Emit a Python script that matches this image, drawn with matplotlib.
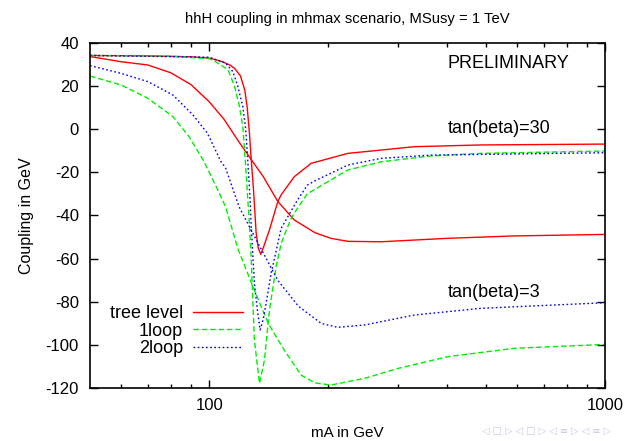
import numpy as np
import matplotlib.pyplot as plt
from matplotlib.ticker import FixedLocator, NullFormatter

plt.rcParams['font.family'] = ['Liberation Sans', 'DejaVu Sans']
plt.rcParams['axes.unicode_minus'] = False

# tree level
mA_tree30 = [50, 70, 90, 100, 107, 113, 116, 120, 123, 124.7, 126.4, 127.7, 129.4,
             130.6, 131.4, 133, 135, 137, 142, 149, 152, 164, 181, 224, 330, 485, 1000]
tree30 = [34.0, 33.8, 33.4, 32.8, 31.4, 29.5, 28.0, 24.5, 18.0, 10.3, -2.0, -14.0, -28.0,
          -40.0, -48.0, -55.0, -58.0, -55.0, -46.7, -33.7, -30.5, -22.1, -15.9, -11.3, -8.2, -7.4, -7.0]
mA_tree3 = [50, 60, 70, 80, 90, 100, 109, 118, 128, 137, 149, 164, 185, 203, 224, 272, 400, 589, 1000]
tree3 = [33.5, 31.1, 29.6, 26.0, 20.5, 12.6, 4.5, -5.1, -14.4, -22.1, -33.5, -42.1, -48.0,
         -50.6, -52.0, -52.2, -50.6, -49.5, -48.8]

# 1loop
mA_one30 = [50, 80, 100, 103, 111.5, 116, 119.3, 121.6, 122.8, 124.0, 125.2, 126, 127.7,
            130.1, 134.0, 137.9, 142, 147.6, 152, 155, 161, 164, 177, 224, 272, 363, 485, 1000]
one30 = [34.0, 33.7, 32.5, 31.5, 27.5, 19.6, 10.3, 1.0, -9.7, -20.4, -32.9, -40.0, -60.0,
         -97.7, -117.7, -107.0, -83.8, -63.7, -53.0, -49.0, -41.5, -39.0, -30.0, -19.0, -15.2, -12.5, -11.3, -10.2]
mA_one3 = [50, 60, 70, 81, 89, 97, 105, 110, 118, 129, 141, 155, 171, 185, 203, 247, 300, 400, 589, 1000]
one3 = [24.5, 20.3, 14.2, 5.7, -3.6, -15.0, -28.0, -36.0, -55.0, -73.0, -90.0, -102.5, -114.0,
        -117.5, -118.5, -115.4, -110.8, -105.4, -101.5, -99.7]

# 2loop
mA_two30 = [50, 100, 110, 114.8, 118.2, 121.6, 123.5, 124.7, 125.7, 126.9, 127.7, 130.1, 132.7,
            134.5, 137, 139.3, 143.4, 149.1, 152, 161, 167, 177, 185, 203, 224, 272, 363, 1000]
two30 = [34.0, 33.2, 30.5, 26.5, 19.6, 10.3, 1.0, -9.7, -20.4, -32.9, -45.0, -71.4, -85.3,
         -93.0, -88.0, -80.5, -66.8, -52.9, -46.0, -38.0, -33.0, -26.0, -24.0, -20.5, -16.7, -13.6, -12.1, -11.0]
mA_two3 = [50, 60, 70, 81, 91, 99, 107, 110, 119, 133, 149, 168, 192, 211, 247, 330, 485, 1000]
two3 = [29.3, 25.7, 21.9, 15.7, 6.5, -2.0, -15.0, -18.0, -36.0, -53.0, -70.0, -82.0, -90.0,
        -91.8, -90.7, -86.1, -83.0, -80.4]

red = '#ff0000'
green = '#00ee00'
blue = '#0000ff'

fig = plt.figure(figsize=(6.3, 4.41), dpi=100)
ax = fig.add_axes([0.1429, 0.1195, 0.8174, 0.7841])

ax.plot(mA_tree30, tree30, color=red, lw=1, label='tree level')
ax.plot(mA_tree3, tree3, color=red, lw=1)
ax.plot(mA_one30, one30, color=green, lw=1, ls=(0, (4, 2)), label='1loop')
ax.plot(mA_one3, one3, color=green, lw=1, ls=(0, (4, 2)))
ax.plot(mA_two30, two30, color=blue, lw=1, ls=(0, (1.2, 1.8)), label='2loop')
ax.plot(mA_two3, two3, color=blue, lw=1, ls=(0, (1.2, 1.8)))

ax.set_xscale('log')
ax.set_xlim(50, 1000)
ax.set_ylim(-120, 40)
ax.set_yticks(range(-120, 41, 20))
ax.xaxis.set_major_locator(FixedLocator([100, 1000]))
ax.set_xticklabels(['100', '1000'])
ax.xaxis.set_minor_locator(FixedLocator([60, 70, 80, 90, 200, 300, 400, 500, 600, 700, 800, 900]))
ax.xaxis.set_minor_formatter(NullFormatter())
ax.tick_params(which='both', direction='in', top=True, right=True, labelsize=12)
ax.tick_params(axis='y', pad=8)
ax.tick_params(axis='x', pad=7)
ax.tick_params(which='major', length=6, width=1)
ax.tick_params(which='minor', length=3, width=1)
for s in ax.spines.values():
    s.set_linewidth(1.2)

ax.set_title('hhH coupling in mhmax scenario, MSusy = 1 TeV', fontsize=10.7, pad=14)
ax.set_xlabel('mA in GeV', fontsize=11, labelpad=9)
ax.set_ylabel('Coupling in GeV', fontsize=11.5, labelpad=8)

ax.text(400, 30.5, 'PRELIMINARY', fontsize=13, va='center', ha='left')
ax.text(400, 0, 'tan(beta)=30', fontsize=13, va='center', ha='left')
ax.text(400, -75.5, 'tan(beta)=3', fontsize=13, va='center', ha='left')

ax.legend(loc='upper right', bbox_to_anchor=(243 / 630, 1 - 305 / 441),
          bbox_transform=fig.transFigure, frameon=False, markerfirst=False,
          fontsize=13, handlelength=2.77, handletextpad=0.55, labelspacing=0.03,
          borderpad=0, borderaxespad=0)

# faint beamer navigation symbols
fig.text(0.97, 0.012, '◁ □ ▷ ◁ □ ▷ ◁ ≡ ▷ ◁ ≡ ▷', fontsize=7, color='#c8c8e6',
         ha='right', va='bottom', family='DejaVu Sans')

fig.savefig('out.png', dpi=100)
